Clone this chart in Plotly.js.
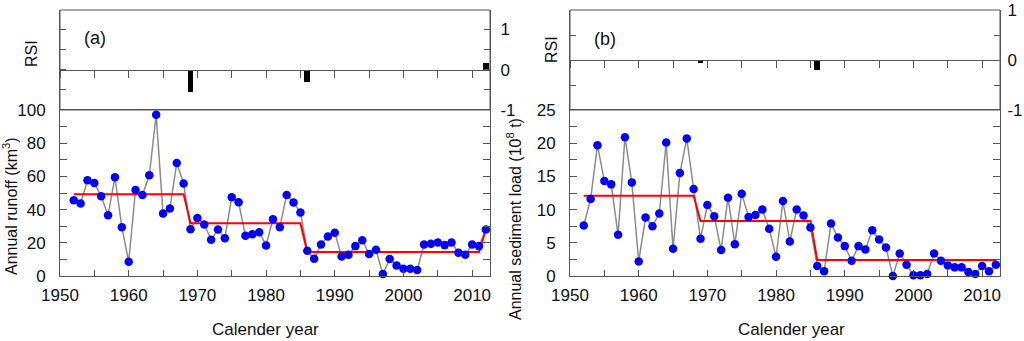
<!DOCTYPE html>
<html><head><meta charset="utf-8">
<script src="https://cdn.plot.ly/plotly-3.0.1.min.js"></script>
<style>html,body{margin:0;padding:0;background:#fff}#chart{width:1024px;height:341px}</style>
</head><body><div id="chart"></div>
<script>
const years = [1952,1953,1954,1955,1956,1957,1958,1959,1960,1961,1962,1963,1964,1965,1966,1967,1968,
  1969,1970,1971,1972,1973,1974,1975,1976,1977,1978,1979,1980,1981,1982,1983,1984,1985,
  1986,1987,1988,1989,1990,1991,1992,1993,1994,1995,1996,1997,1998,1999,2000,2001,2002,2003,2004,2005,2006,2007,2008,2009,2010,2011,2012];
const runoff = [45.6,43.7,57.7,56.0,48.0,36.6,59.5,29.4,8.6,51.8,48.8,60.7,97.1,37.6,40.6,68.1,55.7,
  28.2,35.0,31.0,21.8,28.0,22.8,47.4,44.4,24.2,25.2,26.4,18.4,34.2,29.4,48.8,44.3,38.3,
  15.2,10.4,19.0,23.8,26.0,11.8,12.8,18.0,21.6,13.2,15.8,1.2,10.2,6.4,4.4,4.4,3.6,19.0,19.4,20.2,18.6,20.2,14.0,12.8,19.0,18.0,28.0];
const sediment = [7.6,11.6,19.7,14.3,13.8,6.2,20.9,14.1,2.2,8.8,7.5,9.4,20.1,4.1,15.5,20.7,13.1,
  5.6,10.7,9.0,3.9,11.8,4.8,12.4,8.9,9.2,10.0,7.1,2.9,11.3,5.2,10.0,9.1,7.3,
  1.5,0.7,7.9,5.8,4.5,2.3,4.5,4.0,6.9,5.5,4.3,0.0,3.4,1.7,0.1,0.1,0.3,3.4,2.3,1.6,1.3,1.3,0.6,0.3,1.5,0.7,1.7];
const meanRunoffX = [1952,1968,1969,1985,1986,2011,2012];
const meanRunoffY = [49.2,49.2,31.8,31.8,14.4,14.4,28.0];
const meanSedX = [1952,1968,1969,1985,1986,2012];
const meanSedY = [12.1,12.1,8.3,8.3,2.4,2.4];
const rsiRunoffX = [1969,1986,2012];
const rsiRunoffY = [-0.56,-0.30,0.17];
const rsiSedX = [1969,1986];
const rsiSedY = [-0.06,-0.20];
const xTickVals = [1950,1960,1970,1980,1990,2000,2010];
const rsiTickVals = [-1,0,1];
const rsiTickText = ['-1','0','1'];
const rsiMinorVals = [-0.5,0.5];

const W = 1024, H = 341;
const px = v => v / W, py = v => 1 - v / H;
const lineCol = '#555555';
const fnt = {family: 'Liberation Sans, Arial, sans-serif', size: 17, color: '#111'};
const xr = [1950, 2012.6];
const domA = [px(60), px(490)], domB = [px(570), px(1000)];
const domLow = [py(276), py(110)], domTop = [py(110), py(10)];
const rsiRangeA = [-1, 1.48], rsiRangeB = [-1, 1];
const zeroPos = (r) => domTop[0] + (0 - r[0]) / (r[1] - r[0]) * (domTop[1] - domTop[0]);

function series(xa, ya, vals, meanX, meanY) {
  return [
    {x: years, y: vals, xaxis: xa, yaxis: ya, type: 'scatter', mode: 'lines',
     line: {color: '#8c8c8c', width: 1.5}, hoverinfo: 'skip', cliponaxis: false},
    {x: meanX, y: meanY, xaxis: xa, yaxis: ya, type: 'scatter', mode: 'lines',
     line: {color: '#ff0000', width: 2}, cliponaxis: false},
    {x: years, y: vals, xaxis: xa, yaxis: ya, type: 'scatter', mode: 'markers',
     marker: {color: '#0000ff', size: 8.5}, cliponaxis: false}
  ];
}
const data = [
  ...series('x', 'y', runoff, meanRunoffX, meanRunoffY),
  ...series('x2', 'y2', sediment, meanSedX, meanSedY),
  {x: rsiRunoffX, y: rsiRunoffY, xaxis: 'x3', yaxis: 'y3', type: 'bar', width: 0.85, marker: {color: '#000'}},
  {x: rsiSedX, y: rsiSedY, xaxis: 'x4', yaxis: 'y4', type: 'bar', width: 0.85, marker: {color: '#000'}}
];

function bottomX(dom, anchor) {
  return {domain: dom, anchor: anchor, range: xr, tickvals: xTickVals, ticks: 'inside', ticklen: 6,
    tickcolor: lineCol, showline: true, linecolor: lineCol, linewidth: 1, mirror: true,
    showgrid: false, zeroline: false, tickfont: fnt, ticklabelstandoff: 4,
    minor: {dtick: 5, tick0: 1950, ticks: 'inside', ticklen: 6, tickcolor: lineCol, showgrid: false}};
}
function lowY(anchor, range, dtick, minorD) {
  return {domain: domLow, anchor: anchor, range: range, dtick: dtick, ticks: 'inside', ticklen: 7,
    tickcolor: lineCol, showline: true, linecolor: lineCol, linewidth: 1, mirror: 'ticks',
    showgrid: false, zeroline: false, tickfont: fnt, ticklabelstandoff: 10,
    minor: {dtick: minorD, ticks: 'inside', ticklen: 7, tickcolor: lineCol, showgrid: false}};
}
// RSI x-axis sits on the zero line, ticks pointing down
function zeroX(dom, range) {
  return {domain: dom, anchor: 'free', position: zeroPos(range), side: 'bottom', range: xr,
    dtick: 5, tick0: 1950, ticks: 'outside', ticklen: 7, tickcolor: lineCol, showticklabels: false,
    showline: true, linecolor: lineCol, linewidth: 1, showgrid: false, zeroline: false};
}
function rsiY(anchor, range, standoff) {
  return {domain: domTop, anchor: anchor, side: 'right', range: range,
    tickvals: rsiTickVals, ticktext: rsiTickText, ticks: 'inside', ticklen: 6,
    tickcolor: lineCol, showline: true, linecolor: lineCol, linewidth: 1, mirror: 'ticks',
    showgrid: false, zeroline: false, tickfont: fnt, ticklabelstandoff: standoff,
    minor: {tickvals: rsiMinorVals, ticks: 'inside', ticklen: 6, tickcolor: lineCol, showgrid: false}};
}

function ann(text, x, y, opts) {
  return Object.assign({text: text, x: px(x), y: py(y), xref: 'paper', yref: 'paper', showarrow: false,
    xanchor: 'center', yanchor: 'middle', font: {family: fnt.family, size: 16, color: '#111'}}, opts || {});
}
function frame(dom) {
  return {type: 'rect', xref: 'paper', yref: 'paper', x0: dom[0], x1: dom[1], y0: domTop[0], y1: domTop[1],
    line: {color: lineCol, width: 1}, layer: 'below'};
}

const layout = {
  width: W, height: H, margin: {l: 0, r: 0, t: 0, b: 0}, showlegend: false,
  paper_bgcolor: '#fff', plot_bgcolor: 'rgba(0,0,0,0)', bargap: 0,
  xaxis: bottomX(domA, 'y'), yaxis: lowY('x', [0, 100], 20, 10),
  xaxis2: bottomX(domB, 'y2'), yaxis2: lowY('x2', [0, 25], 5, 2.5),
  xaxis3: zeroX(domA, rsiRangeA), yaxis3: rsiY('x3', rsiRangeA, 6),
  xaxis4: zeroX(domB, rsiRangeB), yaxis4: rsiY('x4', rsiRangeB, 3),
  shapes: [frame(domA), frame(domB)],
  annotations: [
    ann('Annual runoff (km<sup>3</sup>)', 10, 206, {textangle: -90}),
    ann('Annual sediment load (10<sup>8</sup> t)', 514, 219, {textangle: -90}),
    ann('RSI', 32, 54, {textangle: -90}),
    ann('RSI', 552, 50, {textangle: -90}),
    ann('(a)', 95, 38, {font: {family: fnt.family, size: 18, color: '#111'}}),
    ann('(b)', 605, 39, {font: {family: fnt.family, size: 18, color: '#111'}}),
    ann('Calender year', 265, 329, {font: {family: fnt.family, size: 17, color: '#111'}}),
    ann('Calender year', 791, 329, {font: {family: fnt.family, size: 17, color: '#111'}})
  ]
};
Plotly.newPlot('chart', data, layout, {displayModeBar: false, staticPlot: true});
</script></body></html>
